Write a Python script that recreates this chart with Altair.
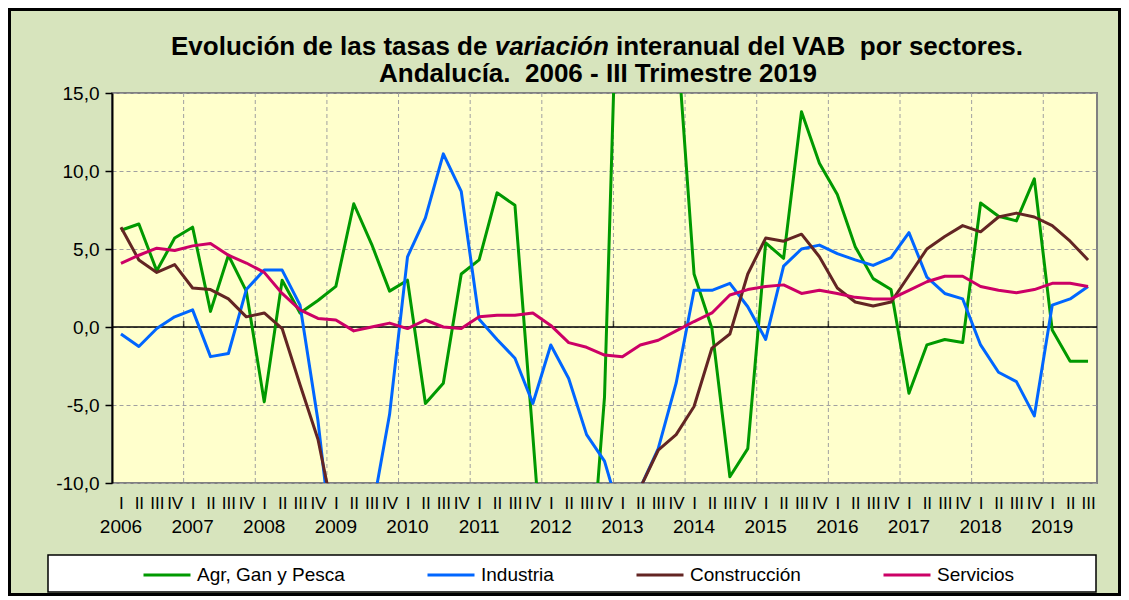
import altair as alt
import pandas as pd

# ---------------- data ----------------
quarter_index = list(range(55))  # 2006-I ... 2019-III
agr = [6.2, 6.6, 3.6, 5.7, 6.4, 1.0, 4.6, 2.3, -4.8, 3.0, 0.9, 1.7, 2.6, 7.9, 5.3, 2.3,
       3.0, -4.9, -3.6, 3.4, 4.3, 8.6, 7.8, -7.0, -22.0, -28.0, -19.3, -4.5, 34.0, 30.0,
       25.0, 19.4, 3.4, -0.1, -9.6, -7.8, 5.4, 4.4, 13.8, 10.5, 8.5, 5.15, 3.1, 2.4,
       -4.25, -1.15, -0.8, -1.0, 7.95, 7.1, 6.8, 9.5, -0.2, -2.2, -2.2]
ind = [-0.45, -1.25, -0.1, 0.65, 1.1, -1.9, -1.7, 2.4, 3.65, 3.65, 1.4, -6.0, -16.0, -20.0,
       -12.0, -5.6, 4.5, 7.0, 11.1, 8.7, 0.5, -0.8, -2.0, -4.9, -1.15, -3.3, -6.9, -8.6,
       -12.5, -10.3, -7.8, -3.6, 2.35, 2.35, 2.8, 1.3, -0.8, 3.9, 5.0, 5.25, 4.7, 4.3,
       3.95, 4.45, 6.05, 3.2, 2.15, 1.8, -1.15, -2.9, -3.5, -5.7, 1.4, 1.8, 2.6]
con = [6.4, 4.3, 3.5, 4.0, 2.5, 2.4, 1.8, 0.65, 0.9, -0.1, -3.7, -7.2, -12.8, -18.0,
       -22.0, -25.0, -24.0, -23.0, -22.0, -20.0, -21.0, -24.0, -26.0, -27.0, -25.0, -23.0,
       -20.0, -15.0, -13.0, -10.3, -7.9, -6.9, -5.1, -1.35, -0.45, 3.4, 5.7, 5.5, 5.95,
       4.5, 2.5, 1.6, 1.35, 1.6, 3.3, 5.0, 5.8, 6.5, 6.1, 7.05, 7.3, 7.05, 6.5, 5.5, 4.3]
ser = [4.08, 4.6, 5.05, 4.9, 5.2, 5.35, 4.6, 4.1, 3.5, 2.15, 1.1, 0.55, 0.45, -0.25, 0.0,
       0.25, -0.1, 0.45, 0.0, -0.1, 0.65, 0.75, 0.75, 0.9, 0.1, -1.0, -1.3, -1.8, -1.9,
       -1.15, -0.85, -0.25, 0.35, 0.9, 2.05, 2.4, 2.6, 2.7, 2.15, 2.35, 2.15, 1.9, 1.8,
       1.8, 2.35, 2.9, 3.25, 3.25, 2.6, 2.35, 2.2, 2.4, 2.8, 2.8, 2.6]

series_names = ["Agr, Gan y Pesca", "Industria", "Construcción", "Servicios"]
series_colors = ["#009900", "#0066FF", "#632523", "#CC0066"]
year_labels = [str(y) for y in range(2006, 2020)]
quarter_labels = ["I", "II", "III", "IV"]
y_ticks = [-10, -5, 0, 5, 10, 15]
title_a = "Evolución de las tasas de"
title_b = "variación"
title_c = "interanual del VAB\u00a0 por sectores."
title_2 = "Andalucía.\u00a0 2006 - III Trimestre 2019"

# ---------------- tables ----------------
rows = []
for name, vals in zip(series_names, [agr, ind, con, ser]):
    for i, v in zip(quarter_index, vals):
        rows.append({"i": i, "v": v, "serie": name})
df = pd.DataFrame(rows)

years_df = pd.DataFrame({"i": [4 * k for k in range(len(year_labels))], "year": year_labels})
bounds_df = pd.DataFrame({"i": [4 * k - 0.5 for k in range(1, 14)], "v": [0] * 13})
one = pd.DataFrame({"k": [0]})

FONT = "Liberation Sans"
W, H = 985, 390
PAD = {"left": 104, "top": 85, "right": 24, "bottom": 113}

q_expr = "[" + ",".join("'" + q + "'" for q in quarter_labels) + "][datum.value % 4]"

x_enc = alt.X(
    "i:Q",
    scale=alt.Scale(domain=[-0.5, 54.5], nice=False, zero=False),
    axis=alt.Axis(
        values=quarter_index, labelExpr=q_expr, title=None, grid=False, domain=False,
        ticks=False, labelFontSize=17, labelFont=FONT, labelColor="black",
        labelPadding=12, labelOverlap=False, labelFlush=False, labelBound=False,
    ),
)
y_enc = alt.Y(
    "v:Q",
    scale=alt.Scale(domain=[-10, 15], nice=False, zero=False),
    axis=alt.Axis(
        values=y_ticks, title=None, grid=True, gridDash=[4, 3], gridColor="#A0A0A0",
        gridWidth=1, domainColor="black", domainWidth=2, tickColor="black", tickSize=7,
        tickWidth=1.5, labelFontSize=19, labelFont=FONT, labelColor="black",
        labelPadding=6,
        labelExpr="(datum.value < 0 ? '-' : '') + replace(format(abs(datum.value), '.1f'), '.', ',')",
    ),
)

# outer frame
frame = alt.Chart(one).mark_rect(filled=False, stroke="black", strokeWidth=3).encode(
    x=alt.value(-PAD["left"] + 1.5), x2=alt.value(W + PAD["right"] - 1.5),
    y=alt.value(-PAD["top"] + 1.5), y2=alt.value(H + PAD["bottom"] - 1.5),
)

# legend box
legend_box = alt.Chart(one).mark_rect(fill="white", stroke="black", strokeWidth=1.5).encode(
    x=alt.value(-64), x2=alt.value(984), y=alt.value(462), y2=alt.value(499),
)

vgrid = alt.Chart(bounds_df).mark_rule(color="#A0A0A0", strokeWidth=1, strokeDash=[4, 3]).encode(
    x=x_enc, y=alt.value(0), y2=alt.value(H)
)
zero = alt.Chart(pd.DataFrame({"v": [0]})).mark_rule(color="black", strokeWidth=1.5).encode(
    y=y_enc, x=alt.value(0), x2=alt.value(W)
)
year_ticks = alt.Chart(bounds_df).mark_tick(
    color="black", thickness=1.5, size=6, orient="vertical", yOffset=-3
).encode(x=x_enc, y=y_enc)

lines = alt.Chart(df).mark_line(strokeWidth=3, clip=True, strokeJoin="round").encode(
    x=x_enc,
    y=y_enc,
    color=alt.Color(
        "serie:N",
        scale=alt.Scale(domain=series_names, range=series_colors),
        sort=series_names,
        legend=alt.Legend(
            orient="none", legendX=30, legendY=457, direction="horizontal", title=None,
            symbolType="stroke", symbolSize=2209, symbolStrokeWidth=3, labelFontSize=19,
            labelFont=FONT, labelColor="black", labelOffset=5, columnPadding=76,
            labelLimit=0, padding=0,
        ),
    ),
    order=alt.Order("i:Q"),
)

years_txt = alt.Chart(years_df).mark_text(
    fontSize=19, font=FONT, color="black", align="center", baseline="alphabetic"
).encode(x=x_enc, y=alt.value(440), text="year:N")

# title, composed of pieces so that one word can be italic
FS = 26
w_a = 12.172 * FS           # Arial bold metrics
w_b = 4.391 * FS
w_c = 15.727 * FS
space = 0.278 * FS
total = w_a + w_b + w_c + 2 * space
cx = 486
a_right = cx - total / 2 + w_a
b_left = a_right + space
c_left = b_left + w_b + space

def title_piece(text, x, align, style="normal"):
    return alt.Chart(pd.DataFrame({"t": [text]})).mark_text(
        fontSize=FS, font=FONT, fontWeight="bold", fontStyle=style, color="black",
        align=align, baseline="alphabetic",
    ).encode(x=alt.value(x), y=alt.value(-38), text="t:N")

t_a = title_piece(title_a, a_right, "right")
t_b = title_piece(title_b, b_left, "left", "italic")
t_c = title_piece(title_c, c_left, "left")
t_2 = alt.Chart(pd.DataFrame({"t": [title_2]})).mark_text(
    fontSize=FS, font=FONT, fontWeight="bold", color="black", align="center",
    baseline="alphabetic",
).encode(x=alt.value(cx), y=alt.value(-11), text="t:N")

chart = alt.layer(
    vgrid, zero, year_ticks, frame, legend_box, years_txt, t_a, t_b, t_c, t_2, lines
).properties(
    width=W, height=H,
    autosize=alt.AutoSizeParams(type="none"),
    padding=PAD,
    background="#D7E4BD",
).configure_view(
    fill="#FFFFCC", stroke="#808080", strokeWidth=2
)

chart.save("out.html", embed_options={"renderer": "svg", "actions": False})
